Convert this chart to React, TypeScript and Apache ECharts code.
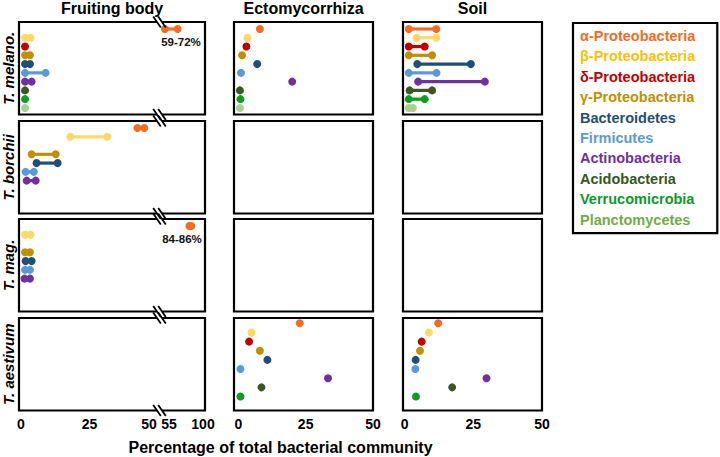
import React, { useEffect, useRef } from 'react';
import * as echarts from 'echarts';

// ---------- data ----------
const CATEGORIES = [
  'α-Proteobacteria',
  'β-Proteobacteria',
  'δ-Proteobacteria',
  'γ-Proteobacteria',
  'Bacteroidetes',
  'Firmicutes',
  'Actinobacteria',
  'Acidobacteria',
  'Verrucomicrobia',
  'Planctomycetes',
];
const DOT_COLORS = ['#F36C21', '#FFD966', '#C00000', '#BF9000', '#1F4E79', '#5B9BD5', '#7030A0', '#3B5727', '#0A9F1E', '#A9D18E'];
const LEGEND_COLORS = ['#F36C21', '#FFC000', '#C00000', '#BF9000', '#1F4E79', '#5B9BD5', '#7030A0', '#375623', '#0A9A26', '#70AD47'];

const HOSTS = ['T. melano.', 'T. borchii', 'T. mag.', 'T. aestivum'];
const TISSUES = ['Fruiting body', 'Ectomycorrhiza', 'Soil'];
const X_TICKS = [0, 25, 50];
const X_TICKS_AFTER_BREAK = [55, 100];
const AXIS_TITLE = 'Percentage of total bacterial community';
const RANGE_NOTES = ['59-72%', '', '84-86%', ''];

type Range = [number, number] | null;

// Fruiting body: min–max per category
const FB_MELANO: Range[] = [[59, 72], [1.5, 3.5], [1.5, 1.5], [1.5, 3.3], [1.5, 3.3], [1.5, 9], [1.5, 3.9], [1.5, 1.5], [1.5, 1.5], [1.5, 1.5]];
const FB_BORCHII: Range[] = [[42.5, 45], [18, 31.5], null, [3.9, 12.7], [5.7, 13.4], [1.7, 4.7], [2.1, 5.4], null, null, null];
const FB_MAG: Range[] = [[84, 86], [1.5, 3.5], null, [1.5, 3.3], [1.7, 3.9], [1.5, 3.3], [1.3, 3.3], null, null, null];
const FB_AESTIVUM: Range[] = [null, null, null, null, null, null, null, null, null, null];

// Ectomycorrhiza
const ECM_MELANO: Range[] = [[8, 8], [3.4, 3.4], [3, 3], [1.4, 1.4], [7, 7], [1, 1], [20, 20], [0.6, 0.6], [0.8, 0.8], [0.6, 0.6]];
const ECM_BORCHII: Range[] = [null, null, null, null, null, null, null, null, null, null];
const ECM_MAG: Range[] = [null, null, null, null, null, null, null, null, null, null];
const ECM_AESTIVUM: Range[] = [[22.8, 22.8], [4.9, 4.9], [4, 4], [8, 8], [10.8, 10.8], [0.8, 0.8], [33.3, 33.3], [8.6, 8.6], [0.8, 0.8], null];

// Soil
const SOIL_MELANO: Range[] = [[1.5, 11.5], [4.3, 11.5], [1.5, 7.3], [1.5, 10], [4.6, 24.1], [1.5, 11.6], [4.9, 29.2], [1.8, 10], [1.5, 7.3], [1.5, 3]];
const SOIL_BORCHII: Range[] = [null, null, null, null, null, null, null, null, null, null];
const SOIL_MAG: Range[] = [null, null, null, null, null, null, null, null, null, null];
const SOIL_AESTIVUM: Range[] = [[12.2, 12.2], [8.8, 8.8], [6.2, 6.2], [5.6, 5.6], [4, 4], [3.9, 3.9], [29.8, 29.8], [17.3, 17.3], [4.1, 4.1], null];

const PANELS: Range[][][] = [
  [FB_MELANO, ECM_MELANO, SOIL_MELANO],
  [FB_BORCHII, ECM_BORCHII, SOIL_BORCHII],
  [FB_MAG, ECM_MAG, SOIL_MAG],
  [FB_AESTIVUM, ECM_AESTIVUM, SOIL_AESTIVUM],
];

// ---------- layout ----------
const FONT = "'Liberation Sans', Arial, Helvetica, sans-serif";
const ROW_TOPS = [22, 121, 219, 318];
const ROW_H = 92.5;
const ROW_Y_RANGE: [number, number][] = [[-0.8, 9.75], [-0.8, 9.75], [-0.8, 9.75], [-0.58, 9.53]];
const BREAK_X = 159.5;
// [left, width, min, max] for: fruiting (before break), fruiting (after break), ecto, soil
const COL_GRIDS: [number, number, number, number][] = [
  [19, 139, -0.7, 50],
  [161, 44, 55, 100],
  [234, 139, -1.6, 50],
  [403, 139, -0.6, 50],
];
const FRAMES: [number, number][] = [[19, 186], [234, 139], [403, 139]];

const makeRenderItem = (color: string) => (_params: any, api: any) => {
  const y = api.value(0);
  const lo = api.value(1);
  const hi = api.value(2);
  const a = api.coord([lo, y]);
  const b = api.coord([hi, y]);
  const children: any[] = [];
  if (hi > lo) {
    children.push({ type: 'line', shape: { x1: a[0], y1: a[1], x2: b[0], y2: b[1] }, style: { stroke: color, lineWidth: 3.2 } });
  }
  children.push({ type: 'circle', shape: { cx: a[0], cy: a[1], r: 4 }, style: { fill: color } });
  if (hi > lo) {
    children.push({ type: 'circle', shape: { cx: b[0], cy: b[1], r: 4 }, style: { fill: color } });
  }
  return { type: 'group', children };
};

function buildOption() {
  const grids: any[] = [];
  const xAxes: any[] = [];
  const yAxes: any[] = [];
  const series: any[] = [];
  const graphics: any[] = [];

  const labelFont = { fontSize: 14, fontWeight: 'bold', color: '#000', fontFamily: FONT };

  for (let r = 0; r < 4; r++) {
    for (let c = 0; c < 4; c++) {
      const gi = r * 4 + c;
      const [left, width, min, max] = COL_GRIDS[c];
      grids.push({ left, top: ROW_TOPS[r], width, height: ROW_H });
      let ticks = X_TICKS;
      let formatter: any = (v: number) => String(v);
      if (c === 0) {
        formatter = (v: number) => (v === 50 ? '{l|50}' : String(v));
      } else if (c === 1) {
        ticks = X_TICKS_AFTER_BREAK;
        formatter = (v: number) => (v === 55 ? '{r|55}' : '{e|' + v + '}');
      }
      xAxes.push({
        gridIndex: gi,
        type: 'value',
        min,
        max,
        axisLine: { show: false },
        axisTick: { show: false },
        splitLine: { show: false },
        axisLabel: {
          show: r === 3,
          customValues: ticks,
          formatter,
          margin: 6,
          ...labelFont,
          rich: {
            l: { ...labelFont, padding: [0, 18, 0, 0] },
            r: { ...labelFont, padding: [0, 0, 0, 16] },
            e: { ...labelFont, padding: [0, 4, 0, 0] },
          },
        },
      });
      yAxes.push({
        gridIndex: gi,
        type: 'value',
        inverse: true,
        min: ROW_Y_RANGE[r][0],
        max: ROW_Y_RANGE[r][1],
        axisLine: { show: false },
        axisTick: { show: false },
        axisLabel: { show: false },
        splitLine: { show: false },
        name: c === 0 ? HOSTS[r] : '',
        nameLocation: 'middle',
        nameRotate: 90,
        nameGap: 3,
        nameTextStyle: { fontSize: 15, fontWeight: 'bold', fontStyle: 'italic', color: '#000', fontFamily: FONT },
      });

      // data for this grid
      const panel = PANELS[r][c === 0 || c === 1 ? 0 : c - 1];
      panel.forEach((rg, k) => {
        if (!rg) return;
        if (c === 0 && rg[1] > 50) return;
        if (c === 1 && rg[1] <= 50) return;
        series.push({
          type: 'custom',
          name: CATEGORIES[k],
          xAxisIndex: gi,
          yAxisIndex: gi,
          itemStyle: { color: DOT_COLORS[k] },
          encode: { x: [1, 2], y: 0 },
          renderItem: makeRenderItem(DOT_COLORS[k]),
          data: [[k, rg[0], rg[1]]],
          z: 3,
        });
      });
    }

    // frames
    const top = ROW_TOPS[r];
    FRAMES.forEach(([x, w]) => {
      graphics.push({
        type: 'rect',
        z: 100,
        silent: true,
        shape: { x, y: top, width: w, height: ROW_H },
        style: { fill: 'none', stroke: '#000', lineWidth: 2.2 },
      });
    });
    // axis break marks on fruiting body frame
    [top, top + ROW_H].forEach((y) => {
      const cx = BREAK_X;
      graphics.push({
        type: 'polygon',
        z: 101,
        silent: true,
        shape: { points: [[cx - 4.2, y - 2], [cx + 0.8, y - 2], [cx + 4.2, y + 2], [cx - 0.8, y + 2]] },
        style: { fill: '#fff' },
      });
      [-2.5, 2.5].forEach((d) => {
        graphics.push({
          type: 'line',
          z: 102,
          silent: true,
          shape: { x1: cx + d - 3.8, y1: y - 5.5, x2: cx + d + 3.8, y2: y + 5.5 },
          style: { stroke: '#000', lineWidth: 1.8 },
        });
      });
    });
  }

  // range annotations for values beyond the break
  const notePos: [number, number][] = [[181, 41.5], [0, 0], [182, 239], [0, 0]];
  RANGE_NOTES.forEach((t, r) => {
    if (!t) return;
    graphics.push({
      type: 'text',
      z: 103,
      x: notePos[r][0],
      y: notePos[r][1],
      style: { text: t, fontSize: 11.5, fontWeight: 'bold', fill: '#111', fontFamily: FONT, align: 'center', verticalAlign: 'middle' },
    });
  });

  const colCenters = [112, 303.5, 472.5];
  const titles: any[] = TISSUES.map((t, i) => ({
    text: t,
    left: colCenters[i],
    top: 0,
    padding: 0,
    textAlign: 'center',
    textStyle: { fontSize: 16, fontWeight: 'bold', color: '#000', fontFamily: FONT },
  }));
  titles.push({
    text: AXIS_TITLE,
    left: 280.5,
    top: 439,
    padding: 0,
    textAlign: 'center',
    textStyle: { fontSize: 16, fontWeight: 'bold', color: '#000', fontFamily: FONT },
  });

  return {
    animation: false,
    backgroundColor: '#fff',
    title: titles,
    legend: {
      data: CATEGORIES.map((n, i) => ({ name: n, icon: 'none', textStyle: { color: LEGEND_COLORS[i] } })),
      orient: 'vertical',
      left: 573,
      top: 23,
      padding: [5.5, 22, 6, 2],
      itemWidth: 0,
      itemHeight: 14.5,
      itemGap: 5.4,
      borderColor: '#000',
      borderWidth: 2.2,
      textStyle: { fontSize: 14.5, fontWeight: 'bold', fontFamily: FONT },
      selectedMode: false,
    },
    grid: grids,
    xAxis: xAxes,
    yAxis: yAxes,
    series,
    graphic: graphics,
  };
}

export default function App() {
  const ref = useRef<HTMLDivElement>(null);
  useEffect(() => {
    document.body.style.margin = '0';
    if (!ref.current) return;
    const chart = echarts.init(ref.current, undefined, { renderer: 'svg' });
    chart.setOption(buildOption() as any);
    return () => chart.dispose();
  }, []);
  return <div ref={ref} style={{ width: 720, height: 457 }} />;
}
